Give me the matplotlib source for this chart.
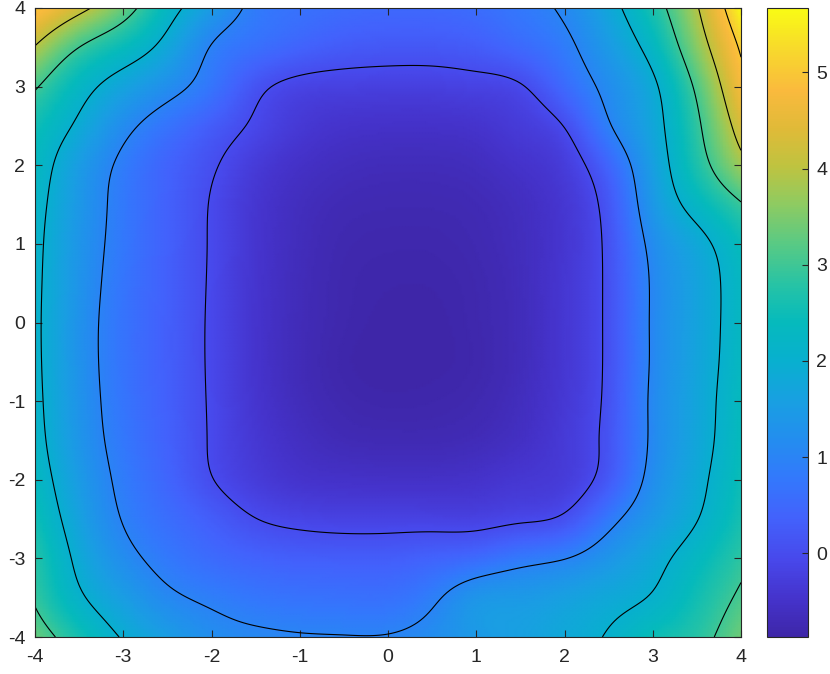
import numpy as np
import matplotlib
matplotlib.use("Agg")
import matplotlib.pyplot as plt
from matplotlib.colors import LinearSegmentedColormap

# ---------------- data ----------------
x_grid = [-4, -3.5, -3, -2.5, -2, -1.5, -1, -0.5, 0, 0.5, 1, 1.5, 2, 2.5, 3, 3.5, 4]
y_grid = [4, 3.5, 3, 2.5, 2, 1.5, 1, 0.5, 0, -0.5, -1, -1.5, -2, -2.5, -3, -3.5, -4]

z_y_p40 = [5.03, 4.22, 3.33, 2.29, 1.50, 0.85, 0.66, 0.55, 0.50, 0.50, 0.58, 0.78, 1.10, 1.76, 2.66, 3.94, 5.67]
z_y_p35 = [3.96, 3.00, 2.42, 1.77, 0.97, 0.62, 0.40, 0.25, 0.20, 0.20, 0.28, 0.50, 0.85, 1.47, 2.26, 3.58, 5.10]
z_y_p30 = [3.07, 2.27, 1.69, 1.22, 0.72, 0.14, -0.14, -0.20, -0.22, -0.22, -0.17, -0.04, 0.52, 1.18, 1.88, 3.13, 4.75]
z_y_p25 = [2.55, 1.88, 1.18, 0.70, 0.30, -0.08, -0.35, -0.47, -0.50, -0.50, -0.45, -0.30, 0.02, 0.94, 1.75, 2.87, 4.31]
z_y_p20 = [2.35, 1.53, 0.87, 0.42, 0.06, -0.30, -0.52, -0.63, -0.67, -0.67, -0.62, -0.48, -0.27, 0.45, 1.58, 2.67, 3.76]
z_y_p15 = [2.22, 1.43, 0.80, 0.38, -0.03, -0.40, -0.62, -0.73, -0.76, -0.76, -0.72, -0.60, -0.38, 0.20, 1.41, 2.25, 2.95]
z_y_p10 = [2.16, 1.37, 0.78, 0.36, -0.04, -0.42, -0.65, -0.78, -0.81, -0.81, -0.76, -0.63, -0.40, 0.12, 1.17, 1.80, 2.45]
z_y_p05 = [2.13, 1.34, 0.73, 0.35, -0.05, -0.43, -0.67, -0.80, -0.84, -0.84, -0.79, -0.65, -0.38, 0.10, 1.07, 1.68, 2.30]
z_y_000 = [2.12, 1.30, 0.70, 0.33, -0.06, -0.44, -0.68, -0.81, -0.86, -0.86, -0.80, -0.66, -0.38, 0.10, 1.07, 1.68, 2.30]
z_y_m05 = [2.13, 1.30, 0.70, 0.33, -0.06, -0.44, -0.69, -0.83, -0.87, -0.86, -0.81, -0.66, -0.38, 0.10, 1.07, 1.70, 2.32]
z_y_m10 = [2.16, 1.33, 0.73, 0.35, -0.05, -0.42, -0.66, -0.79, -0.83, -0.82, -0.77, -0.62, -0.36, 0.12, 1.10, 1.73, 2.38]
z_y_m15 = [2.22, 1.38, 0.78, 0.38, -0.04, -0.37, -0.58, -0.70, -0.73, -0.73, -0.68, -0.55, -0.32, 0.15, 1.10, 1.75, 2.42]
z_y_m20 = [2.35, 1.50, 0.86, 0.45, 0.02, -0.28, -0.45, -0.50, -0.52, -0.52, -0.48, -0.38, -0.28, 0.25, 1.20, 1.84, 2.50]
z_y_m25 = [2.55, 1.65, 0.97, 0.60, 0.30, 0.01, -0.12, -0.17, -0.17, -0.17, -0.17, -0.07, 0.10, 0.80, 1.45, 1.98, 2.62]
z_y_m30 = [2.78, 1.85, 1.20, 0.80, 0.55, 0.40, 0.32, 0.30, 0.30, 0.40, 0.55, 0.80, 0.98, 1.37, 1.80, 2.30, 2.85]
z_y_m35 = [2.93, 2.10, 1.55, 1.12, 0.90, 0.75, 0.68, 0.65, 0.65, 0.90, 1.35, 1.45, 1.60, 1.80, 2.05, 2.55, 3.10]
z_y_m40 = [3.35, 2.60, 1.95, 1.55, 1.22, 1.10, 1.04, 1.02, 1.03, 1.20, 1.45, 1.60, 1.80, 2.05, 2.50, 2.80, 3.40]

contour_levels = [0, 1, 2, 3, 4, 5]
x_ticks = [-4, -3, -2, -1, 0, 1, 2, 3, 4]
y_ticks = [-4, -3, -2, -1, 0, 1, 2, 3, 4]
cbar_ticks = [0, 1, 2, 3, 4, 5]

# ---------------- colormap (parula-like) ----------------
parula_stops = [
    (0.00, (0.2422, 0.1504, 0.6603)),
    (0.06, (0.2700, 0.2000, 0.8000)),
    (0.12, (0.2810, 0.2800, 0.9200)),
    (0.19, (0.2600, 0.3850, 0.9900)),
    (0.25, (0.2000, 0.4700, 0.9900)),
    (0.31, (0.1400, 0.5500, 0.9400)),
    (0.37, (0.1000, 0.6200, 0.8900)),
    (0.44, (0.0300, 0.6900, 0.8100)),
    (0.50, (0.0200, 0.7300, 0.7400)),
    (0.56, (0.1500, 0.7650, 0.6500)),
    (0.62, (0.3300, 0.7900, 0.5300)),
    (0.69, (0.5600, 0.7950, 0.3800)),
    (0.75, (0.7500, 0.7650, 0.2500)),
    (0.81, (0.8800, 0.7300, 0.2200)),
    (0.87, (0.9800, 0.7300, 0.2400)),
    (0.93, (0.9700, 0.8400, 0.1800)),
    (1.00, (0.9769, 0.9839, 0.0805)),
]
parula = LinearSegmentedColormap.from_list("parula", parula_stops, N=256)

plt.rcParams['font.family'] = ['Liberation Sans', 'DejaVu Sans']
plt.rcParams['axes.unicode_minus'] = False

Z = np.array([z_y_p40, z_y_p35, z_y_p30, z_y_p25, z_y_p20, z_y_p15, z_y_p10, z_y_p05,
              z_y_000, z_y_m05, z_y_m10, z_y_m15, z_y_m20, z_y_m25, z_y_m30, z_y_m35, z_y_m40])
xs = np.array(x_grid, float)
ys = np.array(y_grid, float)


# smooth shading of the read grid (natural cubic spline, like MATLAB 'interp' shading)
def spline_matrix(knots, fine):
    n = len(knots)
    h = knots[1] - knots[0]
    A = np.zeros((n, n))
    D = np.zeros((n, n))
    A[0, 0] = A[-1, -1] = 1.0
    for i in range(1, n - 1):
        A[i, i - 1], A[i, i], A[i, i + 1] = 1.0, 4.0, 1.0
        D[i, i - 1], D[i, i], D[i, i + 1] = 6 / h**2, -12 / h**2, 6 / h**2
    Mm = np.linalg.solve(A, D)
    W = np.zeros((len(fine), n))
    for r, xv in enumerate(fine):
        i = min(int(np.floor((xv - knots[0]) / h)), n - 2)
        t = (xv - knots[i]) / h
        W[r, i] += 1 - t
        W[r, i + 1] += t
        W[r] += h**2 / 6 * (((1 - t)**3 - (1 - t)) * Mm[i] + (t**3 - t) * Mm[i + 1])
    return W


xa = xs
ya = ys[::-1]
Za = Z[::-1]
xf = np.linspace(xa[0], xa[-1], 241)
yf = np.linspace(ya[0], ya[-1], 241)
Zf = spline_matrix(ya, yf) @ Za @ spline_matrix(xa, xf).T
Xf, Yf = np.meshgrid(xf, yf)

zmin, zmax = Z.min(), Z.max()

Wd, Hd = 830, 674
fig = plt.figure(figsize=(Wd / 100, Hd / 100), dpi=100)
ax = fig.add_axes([35 / Wd, 1 - 637 / Hd, (741 - 35) / Wd, (637 - 8) / Hd])
cax = fig.add_axes([767 / Wd, 1 - 637 / Hd, 41 / Wd, (637 - 8) / Hd])

pm = ax.pcolormesh(Xf, Yf, Zf, shading='gouraud', cmap=parula, vmin=zmin, vmax=zmax,
                   rasterized=True)
ax.contour(Xf, Yf, Zf, levels=contour_levels, colors='k', linewidths=0.8)

ax.set_xlim(-4, 4)
ax.set_ylim(-4, 4)
ax.set_xticks(x_ticks)
ax.set_yticks(y_ticks)
tc = '#262626'
ax.tick_params(axis='x', pad=9)
ax.tick_params(axis='y', pad=7)
ax.tick_params(direction='in', length=5, width=0.8, colors=tc, labelsize=14,
               top=True, right=True)
for s in ax.spines.values():
    s.set_color(tc)
    s.set_linewidth(0.8)

cb = fig.colorbar(pm, cax=cax, ticks=cbar_ticks)
cb.outline.set_edgecolor(tc)
cb.outline.set_linewidth(0.8)
cax.tick_params(direction='in', length=4, width=0.8, colors=tc, labelsize=14, pad=6)

fig.savefig("out.png", dpi=100)
